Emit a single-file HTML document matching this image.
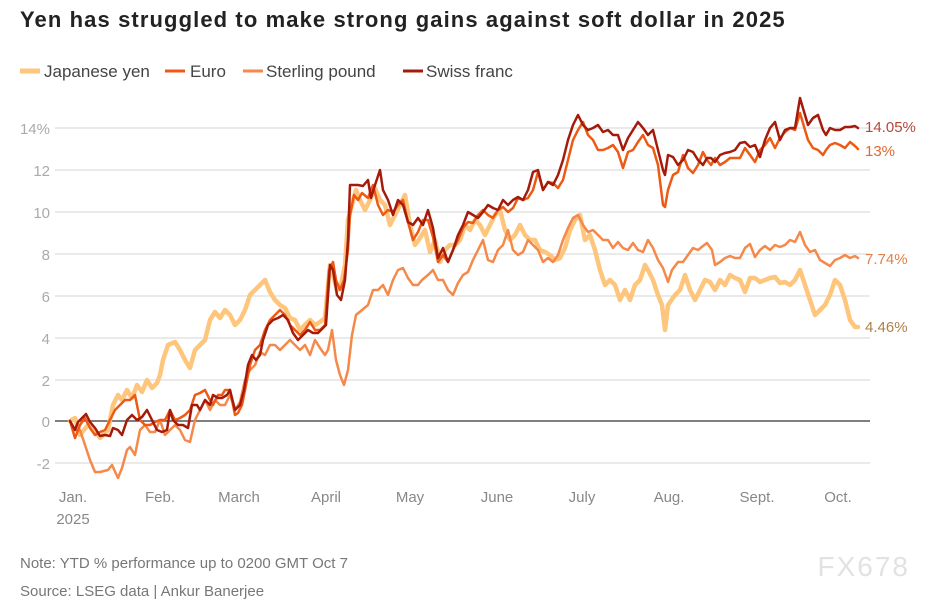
<!DOCTYPE html><html><head><meta charset="utf-8"><style>
body{margin:0;background:#fff;width:940px;height:600px;overflow:hidden;font-family:"Liberation Sans",sans-serif}
</style></head><body>
<svg width="940" height="600" xmlns="http://www.w3.org/2000/svg" font-family="Liberation Sans, sans-serif">
<text x="20" y="27" font-size="22" font-weight="bold" fill="#222" letter-spacing="1.1">Yen has struggled to make strong gains against soft dollar in 2025</text>
<g font-size="17" fill="#444">
<line x1="20" y1="71" x2="40" y2="71" stroke="#fec57d" stroke-width="5"/><text x="44" y="77">Japanese yen</text>
<line x1="165" y1="71" x2="185" y2="71" stroke="#ee5a13" stroke-width="3"/><text x="190" y="77">Euro</text>
<line x1="243" y1="71" x2="263" y2="71" stroke="#f5894a" stroke-width="3"/><text x="266" y="77">Sterling pound</text>
<line x1="403" y1="71" x2="423" y2="71" stroke="#a51b0b" stroke-width="3"/><text x="426" y="77">Swiss franc</text>
</g>
<g stroke="#d6d6d6" stroke-width="1">
<line x1="55" y1="128" x2="870" y2="128"/><line x1="55" y1="170" x2="870" y2="170"/><line x1="55" y1="212" x2="870" y2="212"/><line x1="55" y1="254" x2="870" y2="254"/><line x1="55" y1="296" x2="870" y2="296"/><line x1="55" y1="338" x2="870" y2="338"/><line x1="55" y1="380" x2="870" y2="380"/><line x1="55" y1="463" x2="870" y2="463"/>
</g>
<line x1="55" y1="421" x2="870" y2="421" stroke="#333" stroke-width="1.2"/>
<g font-size="15" fill="#aaa" text-anchor="end">
<text x="50" y="134">14%</text><text x="50" y="176">12</text><text x="50" y="218">10</text><text x="50" y="260">8</text><text x="50" y="302">6</text><text x="50" y="344">4</text><text x="50" y="386">2</text><text x="50" y="427">0</text><text x="50" y="469">-2</text>
</g>
<g font-size="15" fill="#888" text-anchor="middle">
<text x="73" y="502">Jan.</text><text x="73" y="524">2025</text><text x="160" y="502">Feb.</text><text x="239" y="502">March</text><text x="326" y="502">April</text><text x="410" y="502">May</text><text x="497" y="502">June</text><text x="582" y="502">July</text><text x="669" y="502">Aug.</text><text x="757" y="502">Sept.</text><text x="838" y="502">Oct.</text>
</g>
<g fill="none" stroke-linejoin="round" stroke-linecap="round">
<polyline stroke="#fec57d" stroke-width="4.5" points="70,421 75,418 80,435 88,425 95,430 100,438 108,430 113,405 118,395 122,400 127,390 132,398 137,385 142,392 147,380 152,388 157,383 160,375 163,360 168,345 175,342 180,350 185,360 190,368 195,350 200,345 205,340 210,320 215,312 220,318 225,310 230,315 235,325 240,320 245,310 250,295 255,290 260,285 265,280 270,292 275,300 280,305 285,308 290,318 295,320 300,330 305,325 310,320 315,325 320,322 325,318 330,265 333,275 337,290 341,285 345,265 348,220 352,205 356,190 360,200 365,210 370,200 375,188 380,200 385,205 390,225 395,215 400,205 405,195 410,225 415,245 420,238 425,230 430,252 435,240 440,262 445,250 450,245 455,245 460,240 465,225 470,230 475,220 480,225 485,235 490,225 495,215 500,210 505,230 510,240 515,235 520,225 525,235 530,240 535,240 540,250 545,252 550,255 555,260 560,258 565,248 570,230 575,220 580,215 585,240 590,235 595,250 600,270 605,285 610,280 615,285 620,300 625,290 630,300 635,285 640,280 645,265 648,270 653,280 658,295 662,305 665,330 668,305 675,295 680,290 685,275 690,290 695,300 700,290 705,280 710,282 715,290 720,280 725,285 730,275 735,278 740,280 745,292 750,278 755,278 760,282 765,280 770,278 775,277 780,283 785,282 790,285 795,280 800,270 805,285 810,300 815,315 820,310 825,305 830,295 835,280 840,285 845,300 850,320 855,327 858,327"/>
<polyline stroke="#f5894a" stroke-width="2.5" points="70,421 75,430 80,430 85,445 90,460 95,472 100,472 108,470 112,465 118,478 122,468 127,450 130,447 135,455 140,430 145,425 150,432 155,432 160,420 165,435 170,430 175,425 180,430 185,440 190,442 195,420 200,410 205,400 210,410 215,400 220,405 225,405 230,395 235,410 240,402 245,380 250,370 255,365 260,352 265,355 270,345 275,345 280,350 285,345 290,340 295,345 300,350 305,345 310,355 315,340 320,348 325,355 328,350 332,330 336,360 340,375 344,385 348,370 352,335 356,315 362,310 368,305 373,290 378,290 383,285 388,295 393,280 398,270 403,268 408,278 413,285 418,285 422,280 428,275 433,270 438,280 443,280 448,290 453,295 458,283 463,275 468,272 473,260 478,250 483,240 488,260 493,262 498,250 503,245 508,230 513,250 518,255 523,252 528,240 533,245 538,250 543,262 548,258 553,262 558,255 563,240 568,228 573,218 578,215 583,225 588,232 593,230 598,235 603,240 608,240 613,248 618,242 623,248 628,250 633,243 638,250 643,252 648,240 653,248 658,260 663,268 668,282 672,270 678,262 683,262 688,255 693,248 698,250 703,246 707,243 712,250 715,265 720,262 725,258 730,256 735,258 740,258 745,248 750,244 755,257 760,250 765,246 770,250 775,245 780,247 785,245 790,240 795,242 800,232 805,245 810,252 815,250 820,260 825,263 830,266 835,260 840,258 845,255 850,258 855,256 858,258"/>
<polyline stroke="#ee5a13" stroke-width="2.5" points="70,421 75,438 80,425 85,418 90,428 95,435 100,432 105,430 110,420 115,410 120,405 125,400 130,400 135,395 140,420 145,425 150,425 155,422 160,420 165,420 170,410 175,420 180,418 185,415 190,410 195,395 200,393 205,390 210,400 213,405 218,395 222,395 225,390 230,390 235,415 238,413 242,405 246,385 250,365 255,350 260,345 265,330 270,320 275,315 280,310 285,315 290,325 295,330 300,335 305,330 310,322 315,330 320,330 325,325 329,270 333,262 336,280 340,290 344,280 348,250 350,215 354,195 358,200 362,193 368,198 373,185 378,205 383,215 388,210 393,212 398,205 403,200 408,222 413,240 418,232 423,220 428,220 433,237 438,262 443,255 448,262 453,250 458,240 463,228 468,222 473,223 478,215 483,210 488,215 493,218 498,210 503,207 508,212 513,208 518,198 523,200 528,198 533,190 538,172 543,190 548,182 553,183 558,188 563,180 568,160 573,140 578,130 583,122 588,135 593,140 598,150 603,150 608,148 613,145 618,152 623,168 628,152 633,150 638,142 643,135 648,145 653,148 658,165 663,205 665,207 668,190 673,175 678,172 683,155 688,168 693,173 698,165 703,152 707,160 711,165 715,158 720,165 725,162 730,158 735,158 740,158 745,148 750,155 755,162 760,150 765,145 770,138 775,148 780,138 785,132 790,128 795,130 800,113 805,130 808,140 813,148 818,150 823,155 826,150 830,145 835,143 840,145 845,148 850,142 855,146 858,149"/>
<polyline stroke="#a51b0b" stroke-width="2.5" points="70,421 75,430 78,422 82,418 86,414 90,422 95,428 100,436 105,435 110,436 113,428 118,430 122,435 127,420 132,415 137,420 142,417 147,410 152,420 157,430 162,432 167,430 170,410 173,420 178,425 183,425 188,428 192,405 197,405 200,410 205,400 210,405 213,395 218,398 222,398 227,395 230,390 235,410 240,405 244,390 248,365 252,355 256,360 260,355 263,340 268,325 273,320 278,318 283,315 288,320 293,333 298,340 303,335 308,330 313,333 318,333 323,328 326,325 330,265 333,270 337,295 341,300 345,280 348,240 350,185 354,185 358,185 363,186 368,180 371,198 375,185 380,170 383,190 388,200 393,215 398,200 403,205 408,222 413,225 418,218 423,225 428,210 433,228 438,258 443,248 448,262 453,250 458,235 463,225 468,212 473,215 478,218 483,212 488,205 493,208 498,210 503,200 508,205 513,200 518,197 523,200 528,190 533,172 538,170 543,190 548,182 553,185 558,175 563,160 568,140 573,125 578,115 583,125 588,130 593,128 598,125 603,132 608,130 613,135 618,135 623,150 628,138 633,130 638,122 643,128 648,135 653,130 658,150 663,170 665,175 668,155 673,157 678,165 683,160 688,150 693,152 698,160 703,165 707,158 711,158 715,162 720,155 725,153 730,152 735,150 740,143 745,142 750,147 755,145 760,157 765,140 770,128 775,122 780,140 785,130 790,128 795,128 800,98 805,115 808,125 813,118 818,115 823,130 826,135 830,128 835,130 840,130 845,127 850,127 855,126 858,128"/>
</g>
<g font-size="15">
<text x="865" y="132" fill="#b5473a">14.05%</text>
<text x="865" y="156" fill="#e26a2c">13%</text>
<text x="865" y="264" fill="#e0804a">7.74%</text>
<text x="865" y="332" fill="#b08048">4.46%</text>
</g>
<g font-size="15" fill="#777">
<text x="20" y="568">Note: YTD % performance up to 0200 GMT Oct 7</text>
<text x="20" y="596">Source: LSEG data  | Ankur Banerjee</text>
</g>
<text x="910" y="576" font-size="28" fill="#e2e2e2" text-anchor="end" letter-spacing="2">FX678</text>
</svg>
</body></html>
